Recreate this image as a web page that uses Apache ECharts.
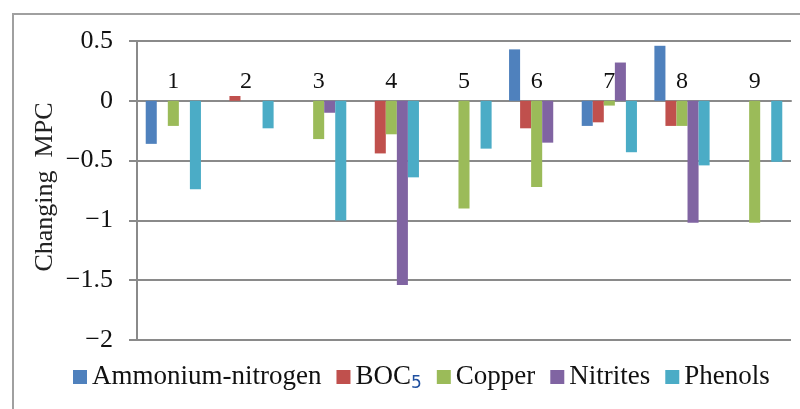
<!DOCTYPE html>
<html><head><meta charset="utf-8">
<script src="https://cdn.jsdelivr.net/npm/echarts@6/dist/echarts.min.js"></script>
<style>html,body{margin:0;padding:0;background:#fff}#c{width:800px;height:409px}</style>
</head><body><div id="c"></div>
<script>
const categories = ['1','2','3','4','5','6','7','8','9'];
const seriesNames = ['Ammonium-nitrogen','BOC5','Copper','Nitrites','Phenols'];
const ammonium = [-0.36, 0, 0, 0, 0, 0.43, -0.21, 0.46, 0];
const boc5     = [0, 0.04, 0, -0.44, 0, -0.23, -0.18, -0.21, 0];
const copper   = [-0.21, 0, -0.32, -0.28, -0.90, -0.72, -0.04, -0.21, -1.02];
const nitrites = [0, 0, -0.10, -1.54, 0, -0.35, 0.32, -1.02, 0];
const phenols  = [-0.74, -0.23, -1.00, -0.64, -0.40, 0, -0.43, -0.54, -0.51];
const yTicks = [-2, -1.5, -1, -0.5, 0, 0.5];
const colors = ['#4F81BD','#C0504D','#9BBB59','#8064A2','#4BACC6'];
const values = [ammonium, boc5, copper, nitrites, phenols];
const serif = '"Liberation Serif", "DejaVu Serif", serif';

const chart = echarts.init(document.getElementById('c'));
chart.setOption({
  animation: false,
  color: colors,
  grid: { left: 137, right: 9, top: 41, bottom: 69 },
  graphic: [
    { type: 'rect', shape: { x: 13, y: 14, width: 820, height: 440 }, style: { fill: 'none', stroke: '#a0a0a0', lineWidth: 2 } },
    { type: 'text', x: 45, y: 187, rotation: Math.PI / 2,
      style: { text: 'Changing  MPC', font: '26px ' + serif, fill: '#222', textAlign: 'center', textVerticalAlign: 'middle' } }
  ],
  legend: {
    bottom: 12, left: 68, itemWidth: 14, itemHeight: 14, itemGap: 15,
    icon: 'rect',
    textStyle: { fontFamily: serif, fontSize: 27, color: '#111',
      rich: { s: { fontFamily: '"DejaVu Sans", sans-serif', fontSize: 17, color: '#2050a0', padding: [13, 0, 0, 0] } } },
    formatter: n => n === 'BOC5' ? 'BOC{s|5}' : n,
    data: seriesNames
  },
  xAxis: [{
    type: 'category', data: categories,
    axisLine: { onZero: true, lineStyle: { color: '#8a8a8a', width: 2 } },
    axisTick: { inside: true, length: 6, lineStyle: { color: '#8a8a8a', width: 2 } },
    axisLabel: { show: false }
  }, {
    type: 'category', data: categories, position: 'top', offset: -59,
    axisLine: { show: false }, axisTick: { show: false },
    axisLabel: { margin: 6, fontFamily: serif, fontSize: 24, color: '#111' }
  }],
  yAxis: {
    type: 'value', min: -2, max: 0.5, interval: 0.5,
    axisLine: { show: true, lineStyle: { color: '#8a8a8a', width: 2 } },
    axisTick: { show: true, length: 8, lineStyle: { color: '#8a8a8a', width: 2 } },
    splitLine: { lineStyle: { color: '#8a8a8a', width: 2 } },
    axisLabel: { margin: 24, fontFamily: serif, fontSize: 26, color: '#111',
      formatter: v => String(v).replace('-', '\u2212') }
  },
  series: seriesNames.map((n, i) => ({
    name: n, type: 'bar', data: values[i], barGap: '0%', barCategoryGap: '24%'
  }))
});
</script></body></html>
